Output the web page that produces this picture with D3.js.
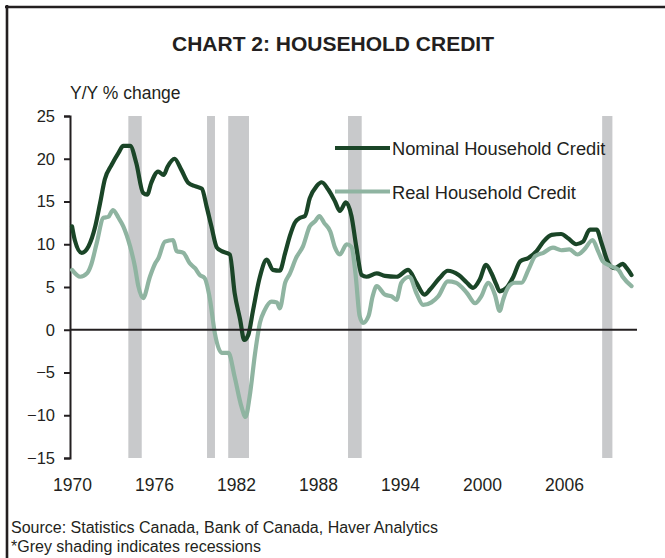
<!DOCTYPE html>
<html>
<head>
<meta charset="utf-8">
<script src="https://cdn.jsdelivr.net/npm/d3@7/dist/d3.min.js"></script>
<style>
  html, body { margin: 0; padding: 0; background: #fff; }
  svg { display: block; }
  text { font-family: "Liberation Sans", Arial, Helvetica, sans-serif; fill: #231f20; }
</style>
</head>
<body>
<svg id="chart" width="665" height="558"></svg>
<script>
// Year-over-year growth of household credit, Canada (%)
const nominalYears = [1970.0,1970.2,1970.7,1971.2,1971.7,1972.05,1972.4,1972.9,1973.4,1973.75,1974.25,1974.7,1975.2,1975.5,1975.8,1976.3,1976.7,1977.0,1977.5,1978.0,1978.5,1979.0,1979.5,1979.85,1980.2,1980.6,1980.95,1981.55,1981.9,1982.3,1982.6,1982.9,1983.25,1983.75,1984.25,1984.7,1985.2,1985.6,1985.95,1986.3,1986.7,1987.05,1987.4,1987.9,1988.27,1988.75,1989.25,1989.6,1990.05,1990.45,1990.8,1991.2,1991.55,1992.3,1992.9,1993.75,1994.6,1995.2,1995.8,1996.2,1996.9,1997.5,1998.3,1998.9,1999.35,1999.85,2000.3,2000.7,2001.05,2001.3,2001.8,2002.3,2002.8,2003.4,2004.0,2004.5,2005.1,2005.8,2006.3,2006.9,2007.4,2007.9,2008.4,2008.75,2009.2,2009.7,2010.3,2010.6,2010.95];
const nominalValues = [12.1,10.5,9.0,9.75,12.1,14.8,17.6,19.3,20.7,21.5,21.5,19.5,16.0,15.8,17.2,18.5,18.1,19.1,20.0,18.7,17.2,16.8,16.5,14.4,12.1,9.6,9.2,8.8,4.3,1.2,-1.2,-0.6,2.3,6.2,8.2,7.0,6.9,9.0,11.0,12.5,13.1,13.3,15.4,16.8,17.25,16.4,15.0,13.9,14.9,13.3,9.75,6.4,6.2,6.6,6.3,6.2,7.0,5.5,4.1,4.7,6.05,6.9,6.4,5.5,4.9,5.9,7.6,6.6,5.3,4.5,4.9,6.2,8.0,8.4,9.2,10.3,11.1,11.2,10.7,10.0,10.3,11.7,11.7,10.15,8.0,7.2,7.7,7.2,6.4];

const realYears = [1970.0,1970.6,1971.1,1971.4,1971.8,1972.3,1972.65,1973.0,1973.4,1973.75,1974.25,1974.6,1974.85,1975.2,1975.7,1976.1,1976.3,1976.8,1977.4,1977.65,1978.15,1978.6,1979.0,1979.35,1979.7,1980.1,1980.45,1980.95,1981.45,1981.9,1982.4,1982.7,1983.0,1983.4,1983.75,1984.1,1984.6,1985.0,1985.2,1985.6,1985.95,1986.4,1986.9,1987.4,1987.8,1988.1,1988.45,1988.9,1989.25,1989.6,1990.1,1990.45,1990.75,1991.05,1991.3,1991.7,1992.0,1992.3,1992.9,1993.4,1993.75,1994.1,1994.7,1995.2,1995.7,1996.3,1996.8,1997.5,1998.1,1998.9,1999.5,1999.95,2000.45,2000.95,2001.3,2001.55,2001.9,2002.4,2002.9,2003.4,2003.9,2004.5,2005.2,2005.8,2006.4,2007.0,2007.5,2008.1,2008.5,2008.85,2009.5,2010.0,2010.3,2010.95];
const realValues = [7.0,6.2,6.6,7.6,10.1,13.1,13.2,14.0,13.1,12.1,9.75,7.4,5.1,3.7,6.2,7.8,8.3,10.3,10.5,9.2,9.0,7.8,7.2,6.4,6.05,3.5,-0.4,-2.7,-2.7,-5.5,-9.0,-10.2,-7.8,-2.7,0.8,2.3,3.3,3.2,2.5,5.5,6.6,8.4,9.75,12.1,12.7,13.3,12.5,11.5,9.6,8.8,10.0,9.7,6.5,1.6,0.8,1.6,3.9,5.1,4.1,3.9,3.5,5.5,6.2,4.3,2.9,3.2,3.9,5.65,5.5,4.3,3.1,3.9,5.5,4.1,2.2,3.5,4.9,5.5,5.5,7.0,8.6,9.0,9.6,9.3,9.4,8.8,9.4,10.5,9.2,8.0,7.4,7.0,6.2,5.1];

// Recession periods (shaded)
const recessionStarts = [1974.12, 1979.88, 1981.43, 1990.2, 2008.8];
const recessionEnds   = [1975.1, 1980.46, 1982.95, 1991.2, 2009.55];

const xTickYears = [1970, 1976, 1982, 1988, 1994, 2000, 2006];
const yTickValues = [-15, -10, -5, 0, 5, 10, 15, 20, 25];

const seriesNames = ["Nominal Household Credit", "Real Household Credit"];
const seriesColors = ["#1a4527", "#8fb4a1"];

const svg = d3.select("#chart");

const x = d3.scaleLinear().domain([1969.85, 2011.35]).range([70, 637]);
const y = d3.scaleLinear().domain([-15, 25]).range([458, 116]);

// frame (top and left rules)
svg.append("line").attr("x1", 5).attr("x2", 665).attr("y1", 7).attr("y2", 7)
  .attr("stroke", "#231f20").attr("stroke-width", 2.6);
svg.append("line").attr("x1", 7).attr("x2", 7).attr("y1", 5).attr("y2", 558)
  .attr("stroke", "#231f20").attr("stroke-width", 2.6);

// title
svg.append("text").attr("x", 333).attr("y", 51).attr("text-anchor", "middle")
  .style("font-size", "21px").style("font-weight", "bold")
  .text("CHART 2: HOUSEHOLD CREDIT");

// unit label
svg.append("text").attr("x", 70).attr("y", 99)
  .style("font-size", "17.5px").text("Y/Y % change");

// recession shading
svg.append("g").selectAll("rect")
  .data(recessionStarts.map((s, i) => [s, recessionEnds[i]]))
  .join("rect")
  .attr("x", d => x(d[0]))
  .attr("width", d => x(d[1]) - x(d[0]))
  .attr("y", y(25))
  .attr("height", y(-15) - y(25))
  .attr("fill", "#c8c9cb");

// y axis
const yAxis = svg.append("g").attr("transform", `translate(${x.range()[0]},0)`)
  .call(d3.axisLeft(y).tickValues(yTickValues).tickSize(6).tickPadding(9));
yAxis.select(".domain").attr("stroke", "#231f20").attr("stroke-width", 2);
yAxis.selectAll(".tick line").attr("stroke", "#231f20").attr("stroke-width", 2);
yAxis.selectAll(".tick text").style("font-size", "16.5px")
  .style("font-family", '"Liberation Sans", Arial, sans-serif').attr("fill", "#231f20");

// x axis labels (no axis rule)
const xAxis = svg.append("g").attr("transform", `translate(0,${y(-15)})`)
  .call(d3.axisBottom(x).tickValues(xTickYears).tickFormat(d3.format("d")).tickSize(0).tickPadding(21));
xAxis.select(".domain").remove();
xAxis.selectAll(".tick text").style("font-size", "17.5px")
  .style("font-family", '"Liberation Sans", Arial, sans-serif').attr("fill", "#231f20");

// series lines
const line = d3.line().curve(d3.curveMonotoneX).x(d => x(d[0])).y(d => y(d[1]));
const nominal = nominalYears.map((t, i) => [t, nominalValues[i]]);
const real = realYears.map((t, i) => [t, realValues[i]]);

[nominal, real].forEach((data, i) => {
  svg.append("path").datum(data)
    .attr("d", line)
    .attr("fill", "none")
    .attr("stroke", seriesColors[i])
    .attr("stroke-width", 4.2)
    .attr("stroke-linejoin", "round")
    .attr("stroke-linecap", "round");
});

// zero line
svg.append("line")
  .attr("x1", x.range()[0]).attr("x2", x.range()[1])
  .attr("y1", y(0)).attr("y2", y(0))
  .attr("stroke", "#231f20").attr("stroke-width", 2);

// legend
const legendY = [148, 191.5];
seriesNames.forEach((name, i) => {
  svg.append("line")
    .attr("x1", 335).attr("x2", 390)
    .attr("y1", legendY[i]).attr("y2", legendY[i])
    .attr("stroke", seriesColors[i]).attr("stroke-width", 4.2);
  svg.append("text")
    .attr("x", 392).attr("y", legendY[i] + 7)
    .style("font-size", "18.3px")
    .text(name);
});

// notes
svg.append("text").attr("x", 11).attr("y", 533).style("font-size", "16px")
  .text("Source: Statistics Canada, Bank of Canada, Haver Analytics");
svg.append("text").attr("x", 11).attr("y", 552).style("font-size", "16px")
  .text("*Grey shading indicates recessions");
</script>
</body>
</html>
